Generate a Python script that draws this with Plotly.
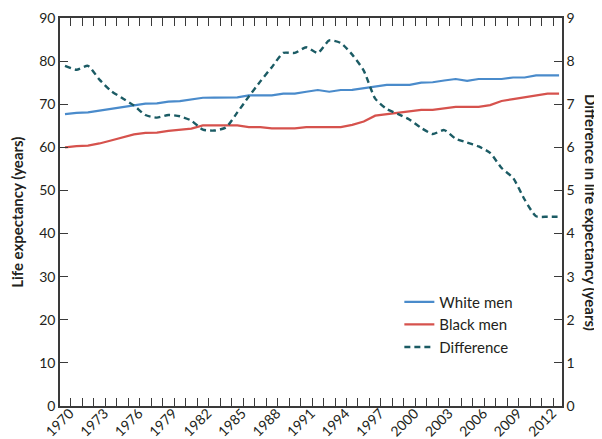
import plotly.graph_objects as go

years = list(range(1970, 2014))
white_men = [67.7, 68.0, 68.1, 68.5, 68.9, 69.4, 69.8, 70.15, 70.2, 70.6,
             70.7, 71.1, 71.5, 71.55, 71.6, 71.6, 72.07, 72.07, 72.07, 72.45,
             72.45, 72.9, 73.3, 72.9, 73.3, 73.35, 73.75, 74.07, 74.5, 74.5,
             74.5, 75.0, 75.1, 75.5, 75.85, 75.4, 75.85, 75.85, 75.85, 76.2,
             76.2, 76.7, 76.7, 76.7]
black_men = [60.0, 60.3, 60.4, 60.9, 61.6, 62.3, 63.0, 63.35, 63.4, 63.8,
             64.0, 64.35, 65.1, 65.1, 65.1, 65.1, 64.7, 64.7, 64.4, 64.35,
             64.4, 64.7, 64.7, 64.7, 64.7, 65.2, 66.0, 67.35, 67.7, 67.9,
             68.35, 68.7, 68.7, 69.05, 69.4, 69.4, 69.4, 69.8, 70.75, 71.2,
             71.6, 72.07, 72.45, 72.45]
difference = [7.89, 7.80, 7.89, 7.57, 7.31, 7.14, 6.97, 6.75, 6.69, 6.75,
              6.72, 6.62, 6.41, 6.39, 6.46, 6.81, 7.18, 7.53, 7.86, 8.19,
              8.19, 8.32, 8.19, 8.48, 8.42, 8.15, 7.78, 7.13, 6.89, 6.77,
              6.64, 6.45, 6.31, 6.40, 6.20, 6.11, 6.02, 5.87, 5.52, 5.29,
              4.79, 4.40, 4.39, 4.39]

# tick marks sit between the yearly categories
tick_positions = [y + 0.5 for y in range(1970, 2013)]
tick_labels = [str(y) if (y - 1970) % 3 == 0 else "" for y in range(1970, 2013)]

FONT = "Lato"
AXIS_COLOR = "#3a3a3a"
TEXT_COLOR = "#231f20"

fig = go.Figure()
fig.add_trace(go.Scatter(x=years, y=white_men, name="White men", mode="lines",
                         line=dict(color="#4a8bcb", width=2.2)))
fig.add_trace(go.Scatter(x=years, y=black_men, name="Black men", mode="lines",
                         line=dict(color="#d6524d", width=2.2)))
fig.add_trace(go.Scatter(x=years, y=difference, name="Difference", mode="lines",
                         yaxis="y2",
                         line=dict(color="#1b5b64", width=2.4, dash="6px,4px",
                                   shape="spline", smoothing=0.6)))

fig.update_layout(
    width=602, height=439,
    margin=dict(l=52, r=48, t=10, b=41, autoexpand=False),
    paper_bgcolor="white", plot_bgcolor="white",
    font=dict(family=FONT, size=14, color=TEXT_COLOR),
    showlegend=True,
    legend=dict(x=0.676, y=0.31, xanchor="left", yanchor="top",
                bgcolor="rgba(0,0,0,0)", font=dict(size=15, color=TEXT_COLOR),
                tracegroupgap=0, itemwidth=30),
    xaxis=dict(range=[1969.565, 2013.255], tickmode="array",
               tickvals=tick_positions, ticktext=tick_labels,
               tickangle=-45, ticks="inside", ticklen=8, tickwidth=1.2,
               tickcolor=AXIS_COLOR, showline=True, linecolor=AXIS_COLOR,
               linewidth=1.5, mirror="ticks", showgrid=False, zeroline=False,
               automargin=False, tickfont=dict(size=14),
               ticklabelstandoff=-8, ticklabelshift=-1),
    yaxis=dict(range=[0, 90], dtick=10, ticks="inside", ticklen=8,
               tickwidth=1.2, tickcolor=AXIS_COLOR, showline=True,
               linecolor=AXIS_COLOR, linewidth=1.5, showgrid=False,
               zeroline=False, automargin=False, tickfont=dict(size=14)),
    yaxis2=dict(range=[0, 9], dtick=1, overlaying="y", side="right",
                ticks="inside", ticklen=8, tickwidth=1.2, tickcolor=AXIS_COLOR,
                showline=True, linecolor=AXIS_COLOR, linewidth=1.5,
                showgrid=False, zeroline=False, automargin=False,
                tickfont=dict(size=14)),
    annotations=[
        dict(text="<b>Life expectancy (years)</b>", xref="paper", yref="paper",
             x=-0.086, y=0.5, xanchor="center", yanchor="middle",
             textangle=-90, showarrow=False,
             font=dict(size=15, color=TEXT_COLOR)),
        dict(text="<b>Difference in life expectancy (years)</b>", xref="paper",
             yref="paper", x=1.0797, y=0.5, xanchor="right", yanchor="middle",
             textangle=90, showarrow=False,
             font=dict(size=15, color=TEXT_COLOR)),
    ],
)

fig.write_html("out.html")
